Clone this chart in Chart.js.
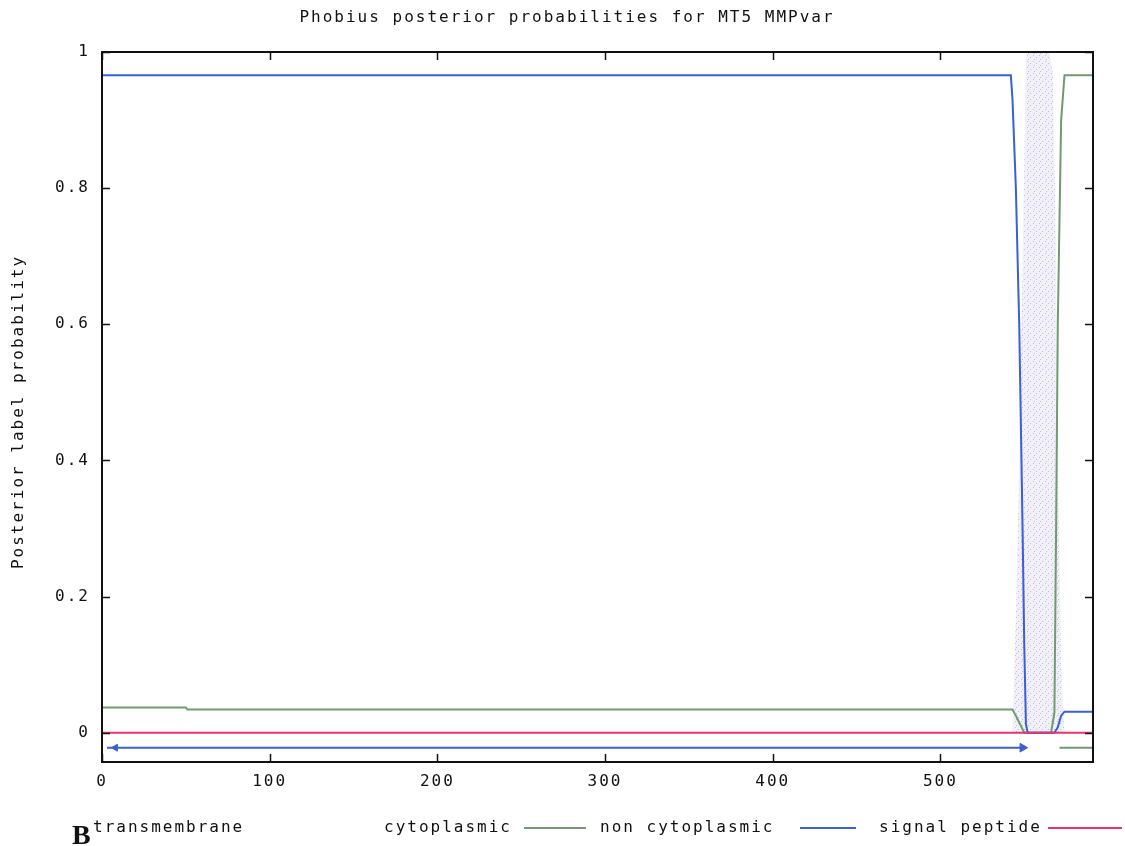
<!DOCTYPE html>
<html>
<head>
<meta charset="utf-8">
<script src="https://cdn.jsdelivr.net/npm/chart.js@4.4.1/dist/chart.umd.min.js"></script>
<style>
html,body{margin:0;padding:0;background:#fff;}
#wrap{width:1125px;height:846px;position:relative;}
</style>
</head>
<body>
<div id="wrap"><canvas id="c" width="1125" height="846"></canvas></div>
<script>
// ---- data ----
const chartTitle = "Phobius posterior probabilities for MT5 MMPvar";
const yAxisTitle = "Posterior label probability";
const panelLetter = "B";
const seqLength = 591;
const xTickValues = [0, 100, 200, 300, 400, 500];
const yTickValues = [0, 0.2, 0.4, 0.6, 0.8, 1];
const yTickLabels = ["0", "0.2", "0.4", "0.6", "0.8", "1"];
const yRange = [-0.043, 1.0];

const seriesNames = ["transmembrane", "cytoplasmic", "non cytoplasmic", "signal peptide"];

// transmembrane posterior (position, probability)
const tmPos  = [0, 543, 545, 547, 549, 551, 552, 565, 567, 569, 570, 572, 574, 591];
const tmProb = [0, 0,   0.17,0.39,0.69,0.99,1.0, 1.0, 0.97,0.70,0.40,0.10,0,   0];

// cytoplasmic posterior
const cytoPos  = [0,    50,   51,   543,  545,  548,  550, 566, 568,  569, 570, 572, 574,  591];
const cytoProb = [0.037,0.037,0.034,0.034,0.025,0.010,0,   0,   0.03, 0.30,0.60,0.90,0.966,0.966];

// non cytoplasmic posterior
const nonCytoPos  = [0,    542,  543,  545, 547, 548,  549, 550,  551,   552, 568, 570,  572,  574,  591];
const nonCytoProb = [0.966,0.966,0.93, 0.80,0.60,0.45, 0.30,0.13, 0.013, 0,   0,   0.008,0.025,0.031,0.031];

// signal peptide posterior
const sigPos  = [0, 591];
const sigProb = [0, 0];

// predicted topology segments (drawn below zero)
const topoLevel = -0.022;
const topoNonCyto = [3, 8, 549];
const topoCyto = [571, 591];

// ---- styling ----
const colCyto = "#6f9c6f";
const colNonCyto = "#3a5fd6";
const colSig = "#e8336e";
const FONT = "'DejaVu Sans Mono', monospace";
const FSIZE = 16;
const LSP = '2px';

function pts(xs, ys){ return xs.map((x,i)=>({x:x, y:ys[i]})); }

// stipple pattern for transmembrane fill
function makePattern(){
  const p = document.createElement('canvas');
  p.width = 6; p.height = 6;
  const g = p.getContext('2d');
  g.fillStyle = "rgba(232,228,242,0.6)";
  g.fillRect(0,0,6,6);
  g.fillStyle = "rgba(180,170,208,0.75)";
  g.fillRect(1,1,1,1); g.fillRect(4,3,1,1); g.fillRect(2,5,1,1);
  return g.createPattern(p, 'repeat');
}

const framePlugin = {
  id: 'frame',
  beforeDraw(chart){ chart.ctx.letterSpacing = LSP; },
  afterDatasetsDraw(chart){
    const {ctx, chartArea:a, scales} = chart;
    ctx.save();
    ctx.strokeStyle = '#111';
    ctx.lineWidth = 2;
    ctx.strokeRect(a.left, a.top, a.right - a.left, a.bottom - a.top);
    ctx.lineWidth = 1.5;
    ctx.beginPath();
    xTickValues.forEach(v=>{
      const px = Math.round(scales.x.getPixelForValue(v))+0.5;
      ctx.moveTo(px, a.bottom); ctx.lineTo(px, a.bottom-8);
      ctx.moveTo(px, a.top); ctx.lineTo(px, a.top+8);
    });
    yTickValues.forEach(v=>{
      const py = Math.round(scales.y.getPixelForValue(v))+0.5;
      ctx.moveTo(a.left, py); ctx.lineTo(a.left+8, py);
      ctx.moveTo(a.right, py); ctx.lineTo(a.right-8, py);
    });
    ctx.stroke();
    ctx.restore();
  },
  afterDraw(chart){
    const {ctx, chartArea:a} = chart;
    ctx.save();
    ctx.fillStyle = '#111';
    ctx.letterSpacing = LSP;
    ctx.font = FSIZE + "px " + FONT;
    ctx.textBaseline = 'middle';
    ctx.textAlign = 'center';
    ctx.fillText(chartTitle, 567, 18);
    // y title
    ctx.save();
    ctx.translate(19, 412);
    ctx.rotate(-Math.PI/2);
    ctx.fillText(yAxisTitle, 0, 0);
    ctx.restore();
    // legend: text followed by a line sample
    ctx.textAlign = 'left';
    const ly = 828;
    const entries = [
      {t: seriesNames[0], x: 93,  c: null, l0: 0, l1: 0},
      {t: seriesNames[1], x: 384, c: colCyto, l0: 524, l1: 586},
      {t: seriesNames[2], x: 600, c: colNonCyto, l0: 800, l1: 856},
      {t: seriesNames[3], x: 879, c: colSig, l0: 1048, l1: 1122}
    ];
    entries.forEach(e=>{
      ctx.fillStyle = '#111';
      ctx.fillText(e.t, e.x, ly);
      if (e.c){
        ctx.strokeStyle = e.c; ctx.lineWidth = 2;
        ctx.beginPath(); ctx.moveTo(e.l0, ly); ctx.lineTo(e.l1, ly); ctx.stroke();
      }
    });
    // panel letter
    ctx.letterSpacing = '0px';
    ctx.font = "bold 28px 'Liberation Serif', serif";
    ctx.textBaseline = 'alphabetic';
    ctx.fillText(panelLetter, 72, 844);
    ctx.restore();
  }
};

const ctx = document.getElementById('c').getContext('2d');
new Chart(ctx, {
  type: 'line',
  data: {
    datasets: [
      {label: seriesNames[0], data: pts(tmPos, tmProb), borderWidth: 0, borderColor: 'rgba(0,0,0,0)',
       backgroundColor: makePattern(), fill: 'origin', pointRadius: 0, order: 10},
      {label: seriesNames[1], data: pts(cytoPos, cytoProb), borderColor: colCyto, borderWidth: 2, pointRadius: 0, fill: false, order: 3},
      {label: seriesNames[2], data: pts(nonCytoPos, nonCytoProb), borderColor: colNonCyto, borderWidth: 2, pointRadius: 0, fill: false, order: 2},
      {label: seriesNames[3], data: pts(sigPos, sigProb), borderColor: colSig, borderWidth: 2, pointRadius: 0, fill: false, order: 1},
      {label: 'topology non cytoplasmic', data: topoNonCyto.map(x=>({x:x, y:topoLevel})), borderColor: colNonCyto,
       backgroundColor: colNonCyto, borderWidth: 2, pointStyle: 'triangle', pointRadius: [0, 4, 5], pointRotation: [0, -90, 90],
       pointBorderWidth: 1, fill: false, order: 1},
      {label: 'topology cytoplasmic', data: topoCyto.map(x=>({x:x, y:topoLevel})), borderColor: colCyto,
       borderWidth: 2, pointRadius: 0, fill: false, order: 1}
    ]
  },
  options: {
    responsive: false,
    animation: false,
    layout: {padding: {top: 52, left: 0, right: 32, bottom: 0}},
    plugins: {legend: {display: false}, title: {display: false}, tooltip: {enabled: false}},
    scales: {
      x: {
        type: 'linear', min: 0, max: seqLength,
        afterFit(s){ s.height = 84; },
        afterBuildTicks(s){ s.ticks = xTickValues.map(v=>({value: v})); },
        grid: {display: false, drawTicks: false},
        border: {display: false},
        ticks: {color: '#111', font: {family: FONT, size: FSIZE}, padding: 10, maxRotation: 0,
                callback: v => String(v)}
      },
      y: {
        type: 'linear', min: yRange[0], max: yRange[1],
        afterFit(s){ s.width = 102; },
        afterBuildTicks(s){ s.ticks = yTickValues.map(v=>({value: v})); },
        grid: {display: false, drawTicks: false},
        border: {display: false},
        ticks: {color: '#111', font: {family: FONT, size: FSIZE}, padding: 12,
                callback: (v) => { const i = yTickValues.indexOf(v); return i >= 0 ? yTickLabels[i] : ''; }}
      }
    }
  },
  plugins: [framePlugin]
});
</script>
</body>
</html>
